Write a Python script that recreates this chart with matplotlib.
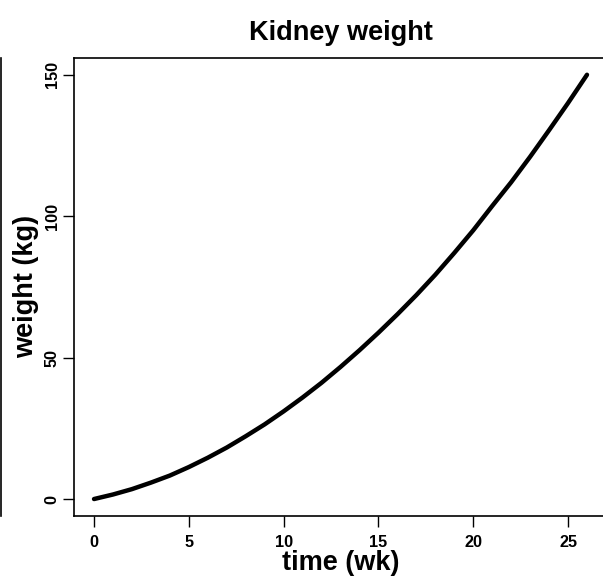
import numpy as np
import matplotlib.pyplot as plt
from matplotlib.lines import Line2D

# Kidney weight over time
weeks = [0, 1, 2, 3, 4, 5, 6, 7, 8, 9, 10, 11, 12, 13,
         14, 15, 16, 17, 18, 19, 20, 21, 22, 23, 24, 25, 26]
weight = [0.0, 1.6, 3.5, 5.8, 8.3, 11.3, 14.6, 18.2, 22.2, 26.4, 31.0, 35.9,
          41.1, 46.7, 52.6, 58.8, 65.3, 72.1, 79.3, 87.0, 95.0, 103.6, 112.0,
          121.0, 130.4, 140.0, 150.0]
xticks = [0, 5, 10, 15, 20, 25]
yticks = [0, 50, 100, 150]

plt.rcParams['font.family'] = ['Liberation Sans', 'DejaVu Sans']
plt.rcParams['font.weight'] = 'bold'

W, H = 603, 585
fig = plt.figure(figsize=(W / 100, H / 100), dpi=100)

# plot region in pixels (right side runs past the figure edge)
left, right, top, bottom = 74.3, 606.7, 57.8, 516.0
ax = fig.add_axes([left / W, 1 - bottom / H, (right - left) / W, (bottom - top) / H])

ax.plot(weeks, weight, color='black', lw=3.2, solid_capstyle='round')

# R-style axis limits (4% padding)
xr = max(weeks) - min(weeks)
yr = max(weight) - min(weight)
ax.set_xlim(min(weeks) - 0.04 * xr, max(weeks) + 0.04 * xr)
ax.set_ylim(min(weight) - 0.04 * yr, max(weight) + 0.04 * yr)

ax.set_xticks(xticks)
ax.set_yticks(yticks)
ax.tick_params(axis='both', direction='out', length=8, width=1.0, labelsize=11.7)
ax.tick_params(axis='x', pad=6)
ax.tick_params(axis='y', pad=2.5)
for lab in ax.get_yticklabels():
    lab.set_rotation(90)
    lab.set_va('center')
for lab in ax.get_xticklabels() + ax.get_yticklabels():
    lab.set_fontweight('bold')

for s in ax.spines.values():
    s.set_linewidth(1.2)

ax.set_title('Kidney weight', fontsize=19.5, fontweight='bold', pad=13)
ax.set_xlabel('time (wk)', fontsize=19.5, fontweight='bold', labelpad=0)
ax.set_ylabel('weight (kg)', fontsize=19.5, fontweight='bold', labelpad=4)

# edge of the neighbouring panel frame
fig.add_artist(Line2D([1.2 / W, 1.2 / W], [1 - top / H, 1 - bottom / H],
                      color='black', lw=1.2))

fig.savefig('out.png', dpi=100)
